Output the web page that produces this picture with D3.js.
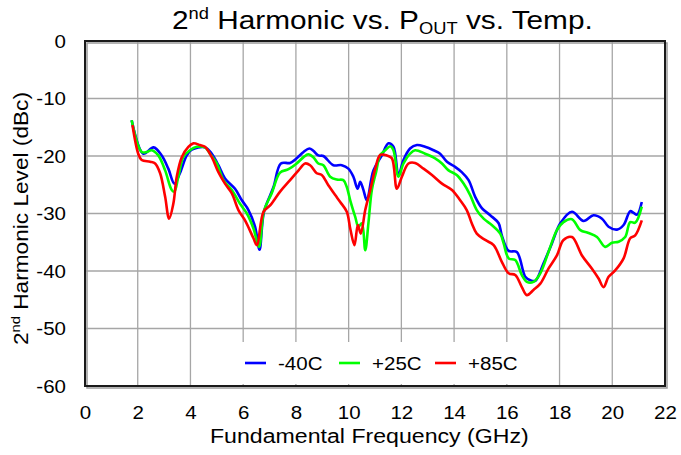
<!DOCTYPE html>
<html>
<head>
<meta charset="utf-8">
<script src="https://cdn.jsdelivr.net/npm/d3@7/dist/d3.min.js"></script>
<style>
  html, body { margin: 0; padding: 0; background: #fff; }
  svg { display: block; font-family: "Liberation Sans", Arial, sans-serif; }
</style>
</head>
<body>
<svg id="chart" width="681" height="455"></svg>
<script>
// Frequency (GHz) and 2nd harmonic level (dBc) per temperature
const freqM40 = [1.77, 2.21, 2.6, 2.91, 3.16, 3.39, 3.6, 3.86, 4.05, 4.55, 4.81, 5.06, 5.31, 5.69, 5.95, 6.2, 6.45, 6.62, 6.79, 7.15, 7.43, 7.78, 8.03, 8.29, 8.51, 8.66, 8.85, 9.04, 9.42, 9.74, 9.99, 10.18, 10.34, 10.44, 10.56, 10.69, 10.94, 11.26, 11.51, 11.7, 11.89, 12.08, 12.33, 12.59, 12.9, 13.22, 13.47, 13.73, 14.04, 14.29, 14.55, 14.8, 15.06, 15.37, 15.69, 15.81, 16.07, 16.38, 16.7, 16.89, 17.08, 17.39, 17.71, 18.03, 18.47, 18.91, 19.29, 19.61, 19.86, 20.18, 20.43, 20.68, 20.81, 20.94, 21.12];
const levelM40 = [-13.8, -19.6, -18.5, -19.9, -22.2, -24.8, -23.0, -19.9, -18.9, -18.5, -19.6, -21.6, -23.9, -25.7, -27.7, -29.4, -32.3, -36.3, -29.7, -25.4, -21.3, -21.2, -20.4, -19.3, -18.7, -19.1, -19.9, -20.0, -21.6, -21.6, -22.2, -23.6, -25.7, -24.5, -25.9, -27.7, -22.5, -19.9, -17.8, -18.4, -23.3, -20.7, -18.7, -18.1, -18.4, -19.0, -19.6, -21.0, -21.9, -22.8, -24.2, -27.1, -29.1, -30.3, -31.7, -33.8, -36.5, -36.7, -41.0, -41.6, -41.7, -38.7, -35.2, -31.7, -29.7, -31.3, -30.3, -30.9, -32.3, -32.8, -32.0, -29.6, -29.9, -30.2, -28.0];

const freqP25 = [1.77, 2.15, 2.34, 2.53, 2.78, 3.04, 3.29, 3.39, 3.54, 3.73, 3.98, 4.24, 4.55, 4.74, 5.0, 5.25, 5.57, 5.88, 6.14, 6.39, 6.6, 6.79, 7.08, 7.4, 7.72, 8.03, 8.29, 8.47, 8.66, 8.85, 9.04, 9.3, 9.55, 9.8, 9.93, 10.06, 10.25, 10.37, 10.5, 10.63, 10.75, 10.88, 11.04, 11.2, 11.39, 11.58, 11.7, 11.89, 12.08, 12.33, 12.52, 12.9, 13.28, 13.54, 13.79, 14.1, 14.36, 14.61, 14.86, 15.12, 15.43, 15.75, 15.88, 16.07, 16.32, 16.57, 16.76, 17.01, 17.27, 17.58, 17.9, 18.15, 18.47, 18.79, 19.1, 19.42, 19.73, 19.99, 20.24, 20.49, 20.68, 20.87, 21.12];
const levelP25 = [-13.8, -19.3, -19.3, -19.0, -19.9, -22.5, -25.9, -26.2, -23.6, -20.2, -19.0, -18.4, -18.5, -19.6, -21.3, -24.2, -25.9, -28.3, -30.0, -32.6, -35.8, -29.5, -26.5, -22.9, -22.3, -21.3, -20.2, -19.7, -20.2, -21.3, -21.6, -23.6, -24.1, -24.2, -25.4, -27.7, -30.6, -32.3, -31.7, -36.4, -31.7, -25.9, -22.8, -19.8, -19.0, -18.3, -19.0, -23.6, -21.3, -19.6, -19.0, -19.6, -20.4, -21.3, -22.5, -23.3, -24.8, -26.8, -29.4, -30.9, -32.0, -33.5, -35.2, -37.8, -38.1, -40.7, -41.9, -41.9, -40.4, -36.7, -32.9, -31.5, -31.0, -32.9, -33.4, -34.1, -35.8, -35.1, -34.9, -34.1, -31.5, -31.6, -28.8];

const freqP85 = [1.8, 2.02, 2.15, 2.47, 2.66, 2.85, 3.04, 3.19, 3.35, 3.48, 3.67, 3.92, 4.11, 4.36, 4.55, 4.81, 5.06, 5.31, 5.57, 5.82, 6.07, 6.39, 6.52, 6.77, 7.02, 7.4, 7.78, 8.1, 8.35, 8.54, 8.79, 8.98, 9.23, 9.49, 9.68, 9.93, 10.06, 10.22, 10.35, 10.46, 10.63, 10.82, 11.01, 11.2, 11.45, 11.64, 11.83, 12.02, 12.27, 12.52, 12.84, 13.16, 13.54, 13.92, 14.23, 14.48, 14.67, 14.86, 15.18, 15.5, 15.81, 16.07, 16.32, 16.57, 16.76, 17.01, 17.27, 17.58, 17.9, 18.15, 18.47, 18.85, 19.23, 19.48, 19.67, 19.86, 20.11, 20.43, 20.68, 20.87, 21.12];
const levelP85 = [-14.6, -19.6, -20.7, -21.0, -21.3, -23.0, -27.1, -30.9, -28.3, -23.6, -20.2, -18.4, -17.8, -18.1, -18.4, -20.2, -22.8, -24.8, -26.5, -29.4, -31.2, -34.3, -35.5, -29.7, -28.6, -26.2, -24.2, -22.5, -21.3, -21.6, -23.0, -23.3, -25.1, -26.8, -28.0, -29.7, -32.6, -35.5, -32.0, -33.5, -29.4, -25.9, -22.2, -19.8, -19.9, -20.4, -25.7, -23.6, -21.3, -21.2, -22.2, -23.3, -24.8, -25.9, -27.7, -29.4, -31.7, -33.5, -34.6, -35.5, -38.4, -40.4, -40.7, -42.8, -44.2, -43.3, -42.2, -39.6, -37.3, -34.6, -34.1, -37.3, -39.6, -41.3, -42.8, -41.0, -39.9, -37.8, -34.3, -33.8, -31.2];

const seriesNames = ["-40C", "+25C", "+85C"];
const seriesColors = ["#0000ff", "#00ff00", "#ff0000"];
const xTicks = [0, 2, 4, 6, 8, 10, 12, 14, 16, 18, 20, 22];
const yTicks = [0, -10, -20, -30, -40, -50, -60];

const series = [
  { name: seriesNames[0], color: seriesColors[0], x: freqM40, y: levelM40 },
  { name: seriesNames[1], color: seriesColors[1], x: freqP25, y: levelP25 },
  { name: seriesNames[2], color: seriesColors[2], x: freqP85, y: levelP85 }
];

const svg = d3.select("#chart");
const plot = { left: 85, top: 41, right: 665, bottom: 386 };
const FONT = "'Liberation Sans', Arial, sans-serif";
const SX = 1.08; // horizontal widening of the lettering

const x = d3.scaleLinear().domain([0, 22]).range([plot.left, plot.right]);
const y = d3.scaleLinear().domain([-60, 0]).range([plot.bottom, plot.top]);

// Gridlines
const grid = svg.append("g");
grid.selectAll("line.v").data(xTicks.slice(1, -1)).join("line")
  .attr("x1", d => x(d)).attr("x2", d => x(d))
  .attr("y1", plot.top).attr("y2", plot.bottom)
  .attr("stroke", "#a6a6a6").attr("stroke-width", 1.3);
grid.selectAll("line.h").data(yTicks.slice(1, -1)).join("line")
  .attr("x1", plot.left).attr("x2", plot.right)
  .attr("y1", d => y(d)).attr("y2", d => y(d))
  .attr("stroke", "#a6a6a6").attr("stroke-width", 1.3);

// Series lines
const line = d3.line()
  .x(d => x(d[0]))
  .y(d => y(d[1]))
  .curve(d3.curveCatmullRom.alpha(0.5));

series.forEach(s => {
  svg.append("path")
    .datum(d3.zip(s.x, s.y))
    .attr("fill", "none")
    .attr("stroke", s.color)
    .attr("stroke-width", 2.6)
    .attr("stroke-linejoin", "round")
    .attr("d", line);
});

// Legend box over the lower grid
const legend = svg.append("g");
legend.append("rect")
  .attr("x", 236).attr("y", 342).attr("width", 284).attr("height", 42)
  .attr("fill", "#fff");
const legendX = [245, 339, 435];
series.forEach((s, i) => {
  legend.append("line")
    .attr("x1", legendX[i]).attr("x2", legendX[i] + 21)
    .attr("y1", 363).attr("y2", 363)
    .attr("stroke", s.color).attr("stroke-width", 2.6);
  legend.append("text")
    .attr("transform", `translate(${legendX[i] + 33},370) scale(${SX},1)`)
    .attr("font-size", 19).attr("font-family", FONT).attr("fill", "#000")
    .text(s.name);
});

// Plot frame with slight shadow
svg.append("rect")
  .attr("x", plot.left + 2).attr("y", plot.top + 2)
  .attr("width", plot.right - plot.left).attr("height", plot.bottom - plot.top)
  .attr("fill", "none").attr("stroke", "#9a9a9a").attr("stroke-width", 1.5);
svg.append("rect")
  .attr("x", plot.left).attr("y", plot.top)
  .attr("width", plot.right - plot.left).attr("height", plot.bottom - plot.top)
  .attr("fill", "none").attr("stroke", "#1a1a1a").attr("stroke-width", 2);

// Axis tick labels (plain hyphen for negatives)
const plain = d => String(d);
const xAxis = d3.axisBottom(x).tickValues(xTicks).tickFormat(plain).tickSize(0).tickPadding(20);
const gx = svg.append("g").attr("transform", `translate(0,${plot.bottom})`).call(xAxis);
gx.select(".domain").remove();
gx.selectAll("text").attr("font-size", 19).attr("fill", "#000")
  .attr("font-family", FONT)
  .attr("transform", `scale(${SX},1)`);

const yAxis = d3.axisLeft(y).tickValues(yTicks).tickFormat(plain).tickSize(0).tickPadding(19 / SX);
const gy = svg.append("g").attr("transform", `translate(${plot.left},0)`).call(yAxis);
gy.select(".domain").remove();
gy.selectAll("text").attr("font-size", 19).attr("fill", "#000")
  .attr("font-family", FONT)
  .attr("transform", `scale(${SX},1)`);

// Fit a text element horizontally between two x positions
function fitWidth(sel, left, right, baseline) {
  const w = sel.node().getComputedTextLength();
  const k = (right - left) / w;
  sel.attr("transform", `translate(${left},${baseline}) scale(${k},1)`);
}

// Title
const title = svg.append("text")
  .attr("font-size", 26).attr("font-family", FONT).attr("fill", "#000");
title.append("tspan").text("2");
title.append("tspan").attr("font-size", 16).attr("dy", -10).text("nd");
title.append("tspan").attr("dy", 10).text(" Harmonic vs. P");
title.append("tspan").attr("font-size", 16).attr("dy", 5).text("OUT");
title.append("tspan").attr("dy", -5).text(" vs. Temp.");
fitWidth(title, 172, 593, 29);

// X axis title
const xTitle = svg.append("text")
  .attr("font-size", 21).attr("font-family", FONT).attr("fill", "#000")
  .text("Fundamental Frequency (GHz)");
fitWidth(xTitle, 210, 529, 443);

// Y axis title
const yTitle = svg.append("text")
  .attr("font-size", 20).attr("font-family", FONT).attr("fill", "#000");
yTitle.append("tspan").text("2");
yTitle.append("tspan").attr("font-size", 13).attr("dy", -8).text("nd");
yTitle.append("tspan").attr("dy", 8).text(" Harmonic Level (dBc)");
{
  const len = yTitle.node().getComputedTextLength();
  const bottom = 345, top = 92;
  const k = (bottom - top) / len;
  yTitle.attr("transform", `translate(28,${bottom}) rotate(-90) scale(${k},1)`);
}
</script>
</body>
</html>
